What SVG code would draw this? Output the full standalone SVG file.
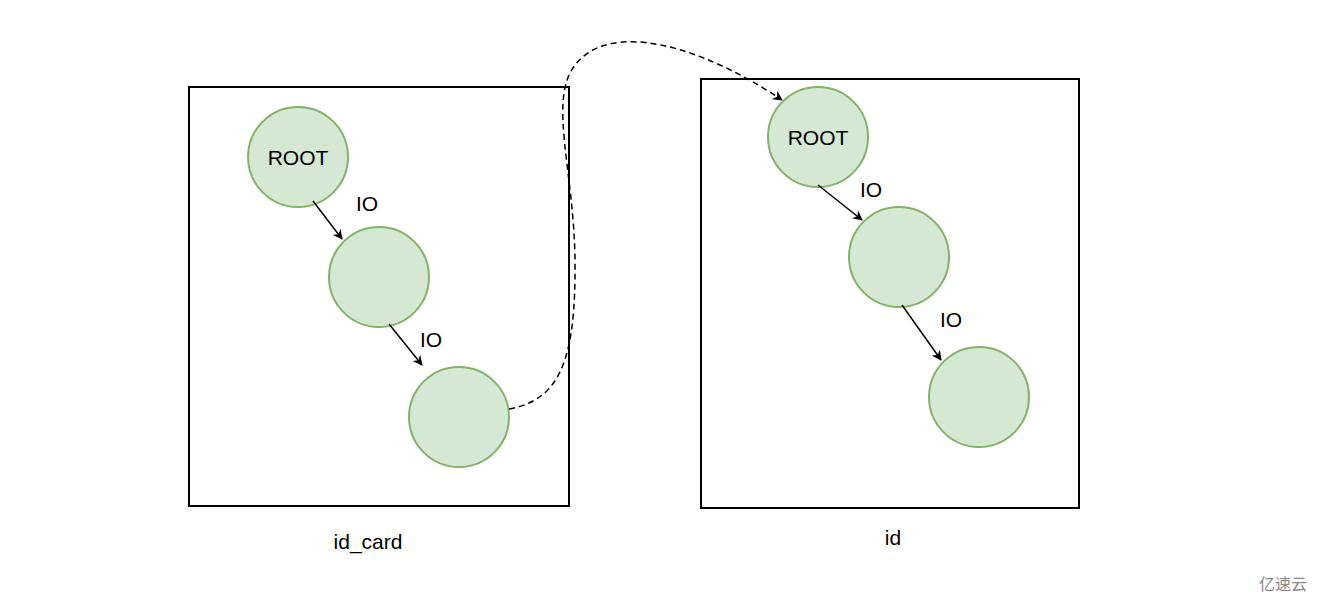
<svg xmlns="http://www.w3.org/2000/svg" width="1320" height="604" viewBox="0 0 1320 604">
<style>
.box{fill:#fff;stroke:#000;stroke-width:2}
.c{fill:#d5e8d4;stroke:#82b366;stroke-width:2}
text{font-family:"Liberation Sans",Arial,sans-serif;font-size:21px;fill:#000;text-anchor:middle}
.e{stroke:#000;stroke-width:1.5;fill:none}
</style>
<defs><marker id="a" viewBox="0 0 10 10" refX="9" refY="5" markerWidth="10" markerHeight="10" markerUnits="userSpaceOnUse" orient="auto"><path d="M0,0L10,5L0,10L3,5z" fill="#000"/></marker></defs>
<rect width="1320" height="604" fill="#fff"/>
<g id="left"><rect class="box" x="189" y="87" width="380" height="419"/><text x="368" y="549">id_card</text></g>
<g id="right"><rect class="box" x="701" y="79" width="378" height="429"/><text x="893" y="545">id</text></g>
<g id="l1"><circle class="c" cx="298" cy="157" r="50"/><text x="298" y="165">ROOT</text></g>
<g id="l2"><circle class="c" cx="379" cy="277" r="50"/></g>
<g id="l3"><circle class="c" cx="459" cy="417" r="50"/></g>
<g id="r1"><circle class="c" cx="818" cy="137" r="50"/><text x="818" y="145">ROOT</text></g>
<g id="r2"><circle class="c" cx="899" cy="257" r="50"/></g>
<g id="r3"><circle class="c" cx="979" cy="397" r="50"/></g>
<g id="edges">
<path class="e" d="M313,201L342,239" marker-end="url(#a)"/>
<path class="e" d="M389,324L422,365" marker-end="url(#a)"/>
<path class="e" d="M818,185L862,220" marker-end="url(#a)"/>
<path class="e" d="M902,305L941,360" marker-end="url(#a)"/>
<path class="e" stroke-dasharray="6,4" d="M509,409C560,400 576,360 575,260C574,170 548,100 575,65C610,20 700,45 782,100" marker-end="url(#a)"/>
<text x="367" y="211">IO</text><text x="431" y="347">IO</text>
<text x="871" y="197">IO</text><text x="951" y="327">IO</text>
</g>
<text x="1283" y="590" style="font-family:'Noto Sans CJK SC',sans-serif;font-size:16px;fill:#888">亿速云</text>
</svg>
